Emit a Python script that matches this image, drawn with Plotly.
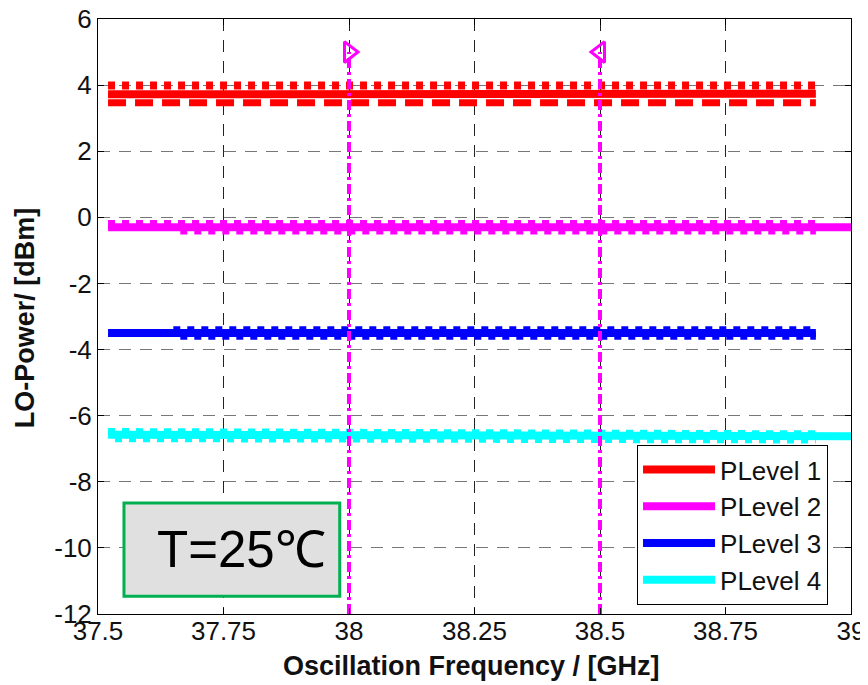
import plotly.graph_objects as go

# ---- data ----
freq = [37.52, 37.65, 37.75, 37.9, 38.0, 38.1, 38.25, 38.4, 38.5, 38.6, 38.75, 38.93]
freq_late = [37.65, 37.75, 37.9, 38.0, 38.1, 38.25, 38.4, 38.5, 38.6, 38.75, 38.93]
freq_ext = [37.52, 37.65, 37.75, 37.9, 38.0, 38.1, 38.25, 38.4, 38.5, 38.6, 38.75, 38.93, 39.0]

p1_dot = [3.99, 3.99, 3.99, 3.99, 3.99, 3.99, 3.99, 3.99, 3.99, 3.99, 3.99, 3.99]
p1_solid = [3.72, 3.72, 3.72, 3.72, 3.72, 3.72, 3.72, 3.73, 3.74, 3.74, 3.74, 3.74]
p1_dash = [3.47, 3.47, 3.47, 3.47, 3.47, 3.47, 3.47, 3.47, 3.47, 3.47, 3.47, 3.47]

p2_solid = [-0.3, -0.3, -0.3, -0.3, -0.3, -0.3, -0.3, -0.3, -0.3, -0.3, -0.3, -0.3, -0.3]
p2_up = [-0.2, -0.2, -0.2, -0.2, -0.2, -0.2, -0.2, -0.2, -0.2, -0.2, -0.2, -0.2]
p2_low = [-0.4, -0.4, -0.4, -0.4, -0.4, -0.4, -0.4, -0.4, -0.4, -0.4, -0.4]

p3_solid = [-3.5, -3.5, -3.5, -3.5, -3.5, -3.5, -3.5, -3.5, -3.5, -3.5, -3.5, -3.5]
p3_up = [-3.4, -3.4, -3.4, -3.4, -3.4, -3.4, -3.4, -3.4, -3.4, -3.4, -3.4]
p3_low = [-3.58, -3.58, -3.58, -3.58, -3.58, -3.58, -3.58, -3.58, -3.58, -3.58, -3.58]

p4_solid = [-6.58, -6.58, -6.58, -6.59, -6.59, -6.6, -6.6, -6.61, -6.62, -6.62, -6.62, -6.62, -6.62]
p4_up = [-6.48, -6.49, -6.5, -6.5, -6.51, -6.52, -6.53, -6.54, -6.55, -6.55, -6.55, -6.55]
p4_low = [-6.68, -6.68, -6.69, -6.69, -6.7, -6.7, -6.71, -6.71, -6.72, -6.72, -6.72, -6.72]

marker_freq = [38.0, 38.5]
marker_top = 5.0
marker_bottom = -12.0

legend_names = ["PLevel 1", "PLevel 2", "PLevel 3", "PLevel 4"]
colors = ["#ff0000", "#ff00ff", "#0000ff", "#00ffff"]

x_ticks = [37.5, 37.75, 38.0, 38.25, 38.5, 38.75, 39.0]
x_ticktext = ["37.5", "37.75", "38", "38.25", "38.5", "38.75", "39"]
y_ticks = [-12, -10, -8, -6, -4, -2, 0, 2, 4, 6]
y_ticktext = ["-12", "-10", "-8", "-6", "-4", "-2", "0", "2", "4", "6"]

FONT = "Liberation Sans, Arial, sans-serif"
DOT = "7px,7px"
DOT_SHIFT = "0px,7px,7px,0px"

fig = go.Figure()

def add(x, y, color, width, dash="solid"):
    fig.add_trace(go.Scatter(x=x, y=y, mode="lines", showlegend=False,
                             line=dict(color=color, width=width, dash=dash), hoverinfo="skip"))

# PLevel 1
add(freq, p1_solid, colors[0], 8)
add(freq, p1_dot, colors[0], 8, DOT)
add(freq, p1_dash, colors[0], 7, "18px,9px")
# PLevel 2
add(freq_ext, p2_solid, colors[1], 8)
add(freq, p2_up, colors[1], 8, DOT)
add(freq_late, p2_low, colors[1], 8, DOT_SHIFT)
# PLevel 3
add(freq, p3_solid, colors[2], 8)
add(freq_late, p3_up, colors[2], 7, DOT)
add(freq_late, p3_low, colors[2], 8, DOT_SHIFT)
# PLevel 4
add(freq_ext, p4_solid, colors[3], 8)
add(freq, p4_up, colors[3], 7, DOT)
add(freq, p4_low, colors[3], 8, DOT_SHIFT)

# marker lines
symbols = ["triangle-right-open", "triangle-left-open"]
for fx, sym in zip(marker_freq, symbols):
    fig.add_trace(go.Scatter(x=[fx, fx], y=[marker_bottom, marker_top], mode="lines",
                             line=dict(color="#ff00ff", width=4, dash="10px,4px,3px,4px"),
                             showlegend=False, hoverinfo="skip"))
    fig.add_trace(go.Scatter(x=[fx], y=[marker_top], mode="markers",
                             marker=dict(symbol=sym, size=18, color="#ff00ff",
                                         line=dict(color="#ff00ff", width=3)),
                             showlegend=False, hoverinfo="skip"))

# legend entries
for i, (name, c) in enumerate(zip(legend_names, colors)):
    fig.add_trace(go.Scatter(x=[None], y=[None], mode="lines", name=name,
                             line=dict(color=c, width=8)))

axis_common = dict(showline=True, linecolor="black", linewidth=1, mirror="ticks",
                   ticks="inside", ticklen=6, tickcolor="black",
                   showgrid=True, gridwidth=1, griddash="12px,9px",
                   zeroline=False, automargin=False, ticklabeloverflow="allow",
                   tickfont=dict(family=FONT, size=26, color="#111"))

fig.update_layout(
    width=860, height=677,
    margin=dict(l=90, r=17, t=11, b=71),
    paper_bgcolor="white", plot_bgcolor="white",
    font=dict(family=FONT, color="#111"),
    xaxis=dict(range=[37.5, 39.0], tickvals=x_ticks, ticktext=x_ticktext,
               gridcolor="#222", ticklabelstandoff=-6, **axis_common),
    yaxis=dict(range=[-12, 6], tickvals=y_ticks, ticktext=y_ticktext,
               gridcolor="#777", **axis_common),
    legend=dict(x=0.9695, y=0.0151, xanchor="right", yanchor="bottom",
                bgcolor="white", bordercolor="black", borderwidth=1,
                font=dict(family=FONT, size=26, color="#111"),
                itemwidth=72, tracegroupgap=0),
    shapes=[dict(type="rect", xref="paper", yref="paper",
                 x0=0.0345, x1=0.321, y0=0.030, y1=0.1866,
                 fillcolor="#e0e0e0", line=dict(color="#00b050", width=3), layer="above")],
    annotations=[
        dict(xref="paper", yref="paper", x=0.190, y=0.108,
             xanchor="center", yanchor="middle",
             text="T=25℃", showarrow=False,
             font=dict(family=FONT, size=51, color="black")),
        dict(xref="paper", yref="paper", x=0.496, y=-0.0874,
             xanchor="center", yanchor="middle", showarrow=False,
             text="<b>Oscillation Frequency / [GHz]</b>",
             font=dict(family=FONT, size=27, color="#111")),
        dict(xref="paper", yref="paper", x=-0.0969, y=0.497, textangle=-90,
             xanchor="center", yanchor="middle", showarrow=False,
             text="<b>LO-Power/ [dBm]</b>",
             font=dict(family=FONT, size=27, color="#111")),
    ],
)

fig.write_html("out.html")
